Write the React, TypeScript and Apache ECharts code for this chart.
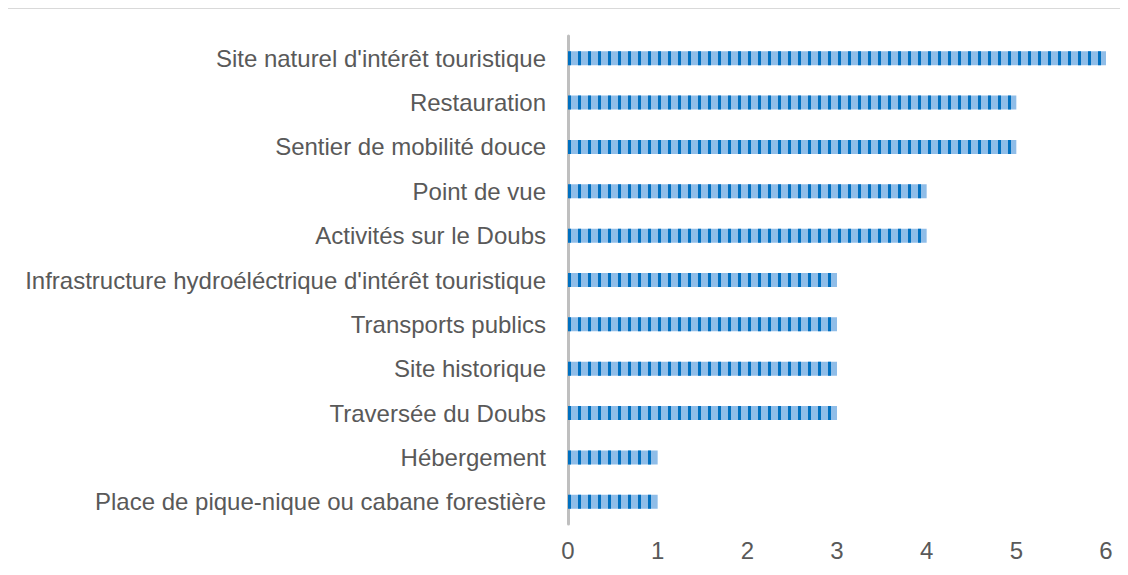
import React, { useEffect, useRef } from "react";
import * as echarts from "echarts";

const categories = [
  "Place de pique-nique ou cabane forestière",
  "Hébergement",
  "Traversée du Doubs",
  "Site historique",
  "Transports publics",
  "Infrastructure hydroéléctrique d'intérêt touristique",
  "Activités sur le Doubs",
  "Point de vue",
  "Sentier de mobilité douce",
  "Restauration",
  "Site naturel d'intérêt touristique",
];
const values = [1, 1, 3, 3, 3, 3, 4, 4, 5, 5, 6];

export default function App() {
  const ref = useRef<HTMLDivElement>(null);
  useEffect(() => {
    if (!ref.current) return;
    const chart = echarts.init(ref.current, null, { renderer: "svg" });
    chart.setOption({
      animation: false,
      grid: { left: 560, right: 21, top: 27, bottom: 51, containLabel: false },
      xAxis: {
        type: "value",
        min: 0,
        max: 6,
        interval: 1,
        axisLine: { show: false },
        axisTick: { show: false },
        splitLine: { show: false },
        axisLabel: {
          color: "#595959",
          fontSize: 24,
          fontFamily: "Liberation Sans, Arial, sans-serif",
          margin: 14,
        },
      },
      yAxis: {
        type: "category",
        data: categories,
        axisLine: { show: true, lineStyle: { color: "#BFBFBF", width: 3 } },
        axisTick: { show: false },
        axisLabel: {
          color: "#595959",
          fontSize: 24,
          fontFamily: "Liberation Sans, Arial, sans-serif",
          margin: 22,
        },
      },
      series: [
        {
          type: "bar",
          data: values,
          barWidth: 14,
          itemStyle: {
            color: "#8FBDE8",
            decal: {
              symbol: "rect",
              symbolSize: 1,
              color: "#0070C0",
              dashArrayX: [2.4, 6.3],
              dashArrayY: [20, 0],
              rotation: 0,
            },
          },
        },
      ],
    });
    return () => chart.dispose();
  }, []);
  return (
    <div
      style={{
        width: 1121,
        height: 567,
        borderTop: "1px solid #D9D9D9",
        borderLeft: "2px solid #D9D9D9",
        boxSizing: "border-box",
        marginLeft: -2,
      }}
    >
      <div ref={ref} style={{ width: 1119, height: 566 }} />
    </div>
  );
}
